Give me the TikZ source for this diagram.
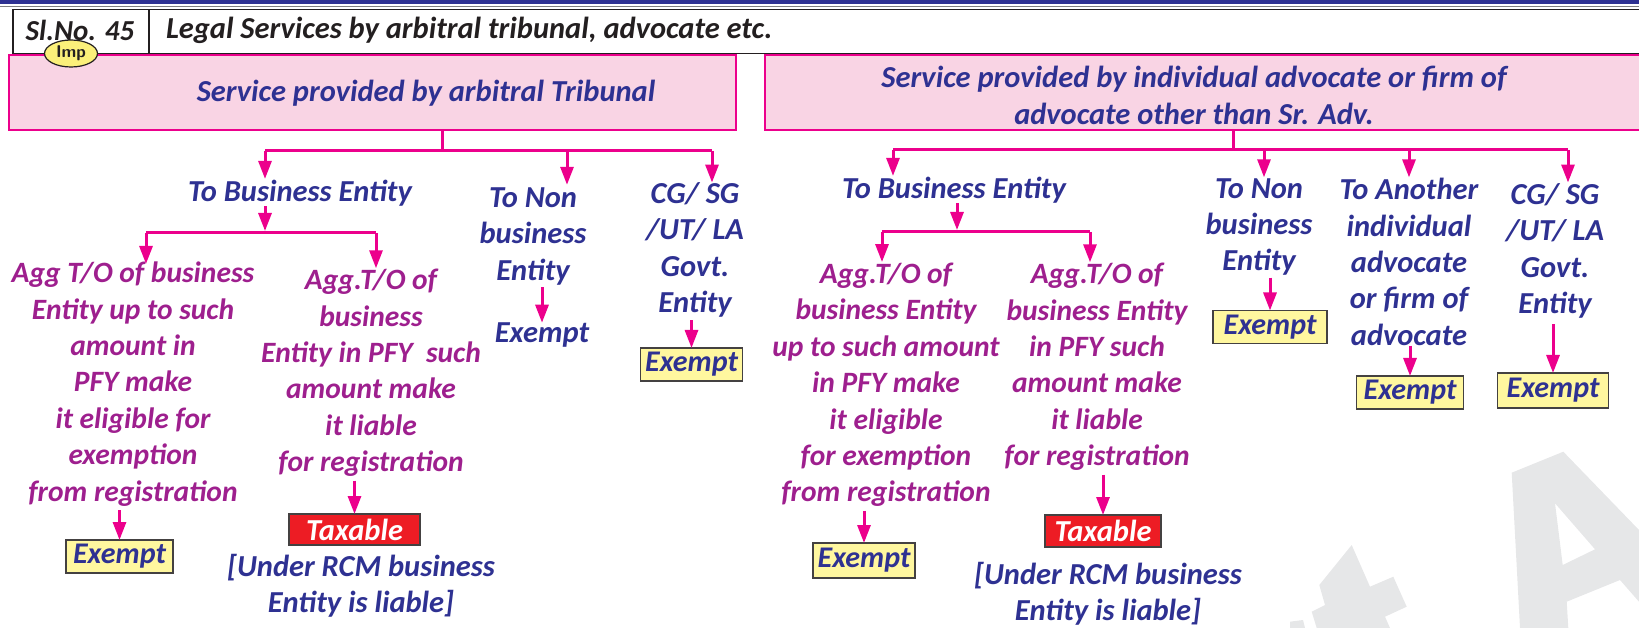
\documentclass[tikz,border=0pt]{standalone}
\usepackage{fontspec}
\setmainfont{Carlito}
\usetikzlibrary{arrows.meta,shapes.geometric}
\definecolor{tblue}{HTML}{2E3192}
\definecolor{tmag}{HTML}{9E1F8E}
\definecolor{pk}{HTML}{EC008C}
\definecolor{pkfill}{HTML}{F9D4E4}
\definecolor{yfill}{HTML}{FFF79F}
\definecolor{impfill}{HTML}{FBF07A}
\definecolor{tred}{HTML}{ED1C24}
\definecolor{wm}{HTML}{E6E7E8}
\definecolor{hdr}{HTML}{231F20}
\begin{document}
\begin{tikzpicture}[x=1pt,y=-1pt,
  every node/.style={inner sep=0pt, outer sep=0pt},
  bt/.style={text=tblue, font=\fontsize{30.5}{36.4}\selectfont\bfseries\itshape, align=center},
  mt/.style={bt, text=tmag, font=\fontsize{29.5}{36.4}\selectfont\bfseries\itshape},
  ln/.style={draw=pk, line width=3pt},
  arr/.style={ln, -{Triangle[width=13pt,length=18pt]}},
  pkbox/.style={draw=pk, line width=2.5pt, fill=pkfill},
  exbox/.style={draw=hdr!85, line width=1.6pt, fill=yfill, text=tblue, font=\fontsize{30}{30}\selectfont\bfseries\itshape},
  taxbox/.style={draw=hdr!85, line width=1.6pt, fill=tred, text=white, font=\fontsize{30.5}{30}\selectfont\bfseries\itshape},
  hdrtext/.style={text=hdr, font=\fontsize{30.5}{30}\selectfont\bfseries\itshape}
]
\useasboundingbox (0,0) rectangle (1639,628);
% watermark
\fill[wm, even odd rule] (1511.7,472.7) -- (1563.3,451.7) -- (1639,530) -- (1639,601.7) -- (1620,580) -- (1566.7,601.7) -- (1568.3,628) -- (1520,628) -- cycle
  (1555,503.3) -- (1595,549.3) -- (1562.7,565) -- cycle;
\fill[wm] (1316.7,628) -- (1311.7,611.7) -- (1325,605) -- (1319.3,585) -- (1351.7,545) -- (1370,586.7) -- (1393.3,576.7) -- (1406.7,606.7) -- (1385,616.7) -- (1390,628) -- cycle;
\fill[wm] (1290,621.7) -- (1303,620) -- (1305,628) -- (1290,628) -- cycle;
% header
\fill[tblue] (0,0) rectangle (1639,4);
\draw[gray, line width=1.5pt] (0,6.5) -- (1639,6.5);
\node[draw=hdr, line width=1.8pt, minimum width=1640pt, minimum height=44pt, anchor=north west] (hdrbox) at (13,9.5) {};
\draw[hdr, line width=1.8pt] (hdrbox.north west -| 149,0) -- (hdrbox.south west -| 149,0);
\node[hdrtext, font=\fontsize{29}{30}\selectfont\bfseries\itshape] (slno) at (80,30) {Sl.No. 45};
\node[hdrtext, anchor=west] (title) at (166,30) {Legal Services by arbitral tribunal, advocate etc.};
% main boxes
\node[pkbox, minimum width=727pt, minimum height=75pt] (boxL) at (372.5,92.5) {};
\node[bt] (txtL) at (426,93) {Service provided by arbitral Tribunal};
\node[pkbox, minimum width=880pt, minimum height=75pt] (boxR) at (1205,92.5) {};
\node[bt] (txtR) at (1194,95.5) {Service provided by individual advocate or firm of\\advocate other than Sr. Adv.};
\node[draw=hdr, line width=1.2pt, fill=impfill, ellipse, minimum width=53pt, minimum height=27pt, font=\fontsize{17}{17}\selectfont\sffamily\bfseries, text=hdr] (imp) at (71,53.5) {Imp};
% left level 1
\node[bt] (tbe1) at (300,193) {To Business Entity};
\node[bt] (tnb1) at (533,236.5) {To Non\\business\\Entity};
\node[bt] (ex1) at (542,335) {Exempt};
\node[bt] (cg1) at (695,250) {CG/ SG\\/UT/ LA\\Govt.\\Entity};
\node[exbox, minimum width=102pt, minimum height=33pt] (exb1) at (691.5,364.5) {Exempt};
% left leaves
\node[mt] (leafA) at (133,384) {Agg T/O of business\\Entity up to such\\amount in\\PFY make\\it eligible for\\exemption\\from registration};
\node[exbox, minimum width=107pt, minimum height=33pt] (exA) at (119.5,556.5) {Exempt};
\node[mt] (leafB) at (371,373) {Agg.T/O of\\business\\Entity in PFY\ \ such\\amount make\\it liable\\for registration};
\node[taxbox, minimum width=131pt, minimum height=31pt] (taxB) at (354.5,529.5) {Taxable};
\node[bt] (rcmB) at (361,586) {[Under RCM business\\Entity is liable]};
% right level 1
\node[bt] (tbe2) at (954,190) {To Business Entity};
\node[bt] (tnb2) at (1259,227) {To Non\\business\\Entity};
\node[exbox, minimum width=114pt, minimum height=33pt] (exb2) at (1270,327) {Exempt};
\node[bt] (ta) at (1409,262) {To Another\\individual\\advocate\\or firm of\\advocate};
\node[exbox, minimum width=107pt, minimum height=33pt] (exb3) at (1410,392.5) {Exempt};
\node[bt] (cg2) at (1555,251) {CG/ SG\\/UT/ LA\\Govt.\\Entity};
\node[exbox, minimum width=111pt, minimum height=35pt] (exb4) at (1553,390.5) {Exempt};
% right leaves
\node[mt] (leafC) at (886,385) {Agg.T/O of\\business Entity\\up to such amount\\in PFY make\\it eligible\\for exemption\\from registration};
\node[exbox, minimum width=102pt, minimum height=35pt] (exC) at (864,560.5) {Exempt};
\node[mt] (leafD) at (1097,367) {Agg.T/O of\\business Entity\\in PFY such\\amount make\\it liable\\for registration};
\node[taxbox, minimum width=116pt, minimum height=32pt] (taxD) at (1103,531) {Taxable};
\node[bt] (rcmD) at (1108,594) {[Under RCM business\\Entity is liable]};
% connectors left
\coordinate (jL) at (442,151);
\coordinate (hL1) at (265,151);
\coordinate (hL2) at (567,151);
\coordinate (hL3) at (712,151);
\draw[ln] (boxL.south -| jL) -- (jL);
\draw[ln] (hL1) -- (hL3);
\draw[arr] (hL1) -- ([yshift=1pt]tbe1.north -| hL1);
\draw[arr] (hL2) -- ([yshift=3pt]tnb1.north -| hL2);
\draw[arr] (hL3) -- (cg1.north -| hL3);
\draw[arr] ([yshift=-2pt]tnb1.south -| ex1) -- (ex1.north);
\draw[arr] ([yshift=-3pt]cg1.south -| exb1) -- (exb1.north);
\coordinate (jB1) at (265,233);
\coordinate (hB1) at (146,233);
\coordinate (hB2) at (376,233);
\draw[arr] (tbe1.south -| jB1) -- ([yshift=2pt]jB1);
\draw[ln] (hB1) -- (hB2);
\draw[arr] (hB1) -- ([yshift=-2pt]leafA.north -| hB1);
\draw[arr] (hB2) -- ([yshift=1pt]leafB.north -| hB2);
\draw[arr] ([yshift=-4pt]leafA.south -| exA) -- (exA.north);
\draw[arr] ([yshift=-4pt]leafB.south -| taxB) -- (taxB.north);
% connectors right
\coordinate (jR) at (1233,150);
\coordinate (hR1) at (893,150);
\coordinate (hR2) at (1264,150);
\coordinate (hR3) at (1409,150);
\coordinate (hR4) at (1568,150);
\draw[ln] (boxR.south -| jR) -- (jR);
\draw[ln] (hR1) -- (hR4);
\draw[arr] (hR1) -- ([yshift=1pt]tbe2.north -| hR1);
\draw[arr] (hR2) -- ([yshift=1pt]tnb2.north -| hR2);
\draw[arr] (hR3) -- ([yshift=1pt]ta.north -| hR3);
\draw[arr] (hR4) -- ([yshift=1pt]cg2.north -| hR4);
\draw[arr] ([yshift=-2pt]tnb2.south -| exb2) -- (exb2.north);
\draw[arr] (ta.south -| exb3) -- (exb3.north);
\draw[arr] ([yshift=-6pt]cg2.south -| exb4) -- (exb4.north);
\coordinate (jC1) at (957,232);
\coordinate (hC1) at (882,232);
\coordinate (hC2) at (1090,232);
\draw[arr] (tbe2.south -| jC1) -- ([yshift=2pt]jC1);
\draw[ln] (hC1) -- (hC2);
\draw[arr] (hC1) -- ([yshift=1pt]leafC.north -| hC1);
\draw[arr] (hC2) -- ([yshift=1pt]leafD.north -| hC2);
\draw[arr] ([yshift=-4pt]leafC.south -| exC) -- (exC.north);
\draw[arr] ([yshift=-4pt]leafD.south -| taxD) -- (taxD.north);
\end{tikzpicture}
\end{document}
